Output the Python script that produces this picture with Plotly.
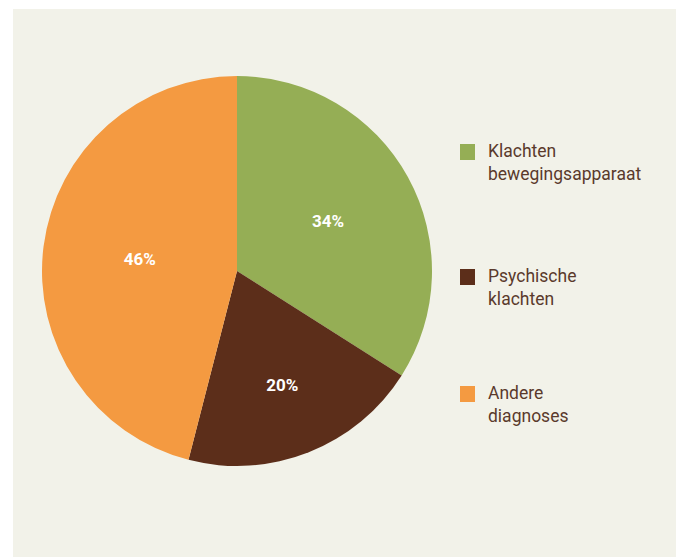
import plotly.graph_objects as go

categories = ["Klachten<br>bewegingsapparaat", "Psychische<br>klachten", "Andere<br>diagnoses"]
values = [34, 20, 46]
colors = ["#95ae55", "#5c2e1a", "#f49a41"]

W, H = 676, 558
cx, cy, r = 237, 271, 195

fig = go.Figure(go.Pie(
    labels=categories,
    values=values,
    sort=False,
    direction="clockwise",
    rotation=0,
    marker=dict(colors=colors, line=dict(width=0)),
    texttemplate="<b>%{percent:.0%}</b>",
    textposition="inside",
    insidetextorientation="horizontal",
    textfont=dict(family="Roboto", size=17, color="white"),
    showlegend=False,
    hoverinfo="label+percent",
    domain=dict(x=[(cx - r) / W, (cx + r) / W], y=[(H - cy - r) / H, (H - cy + r) / H]),
))

shapes = [dict(type="rect", xref="paper", yref="paper", x0=13 / W, x1=1, y0=(H - 557) / H, y1=(H - 9) / H,
               fillcolor="#f2f2e9", line=dict(width=0), layer="below")]
annotations = []
legend_y = [152, 277, 394]
for lab, col, y in zip(categories, colors, legend_y):
    shapes.append(dict(type="rect", xref="paper", yref="paper",
                       x0=460 / W, x1=475 / W, y0=(H - y - 8) / H, y1=(H - y + 8) / H,
                       fillcolor=col, line=dict(width=0)))
    annotations.append(dict(xref="paper", yref="paper", x=486 / W, y=(H - y + 13) / H,
                            xanchor="left", yanchor="top", align="left", showarrow=False,
                            text=lab, font=dict(family="Roboto", size=17.5, color="#5a3a2c")))

fig.update_layout(
    width=W, height=H,
    margin=dict(l=0, r=0, t=0, b=0),
    paper_bgcolor="white",
    plot_bgcolor="white",
    shapes=shapes,
    annotations=annotations,
)

fig.write_html("out.html", config={"displayModeBar": False},
               post_script="document.body.style.margin='0';")
